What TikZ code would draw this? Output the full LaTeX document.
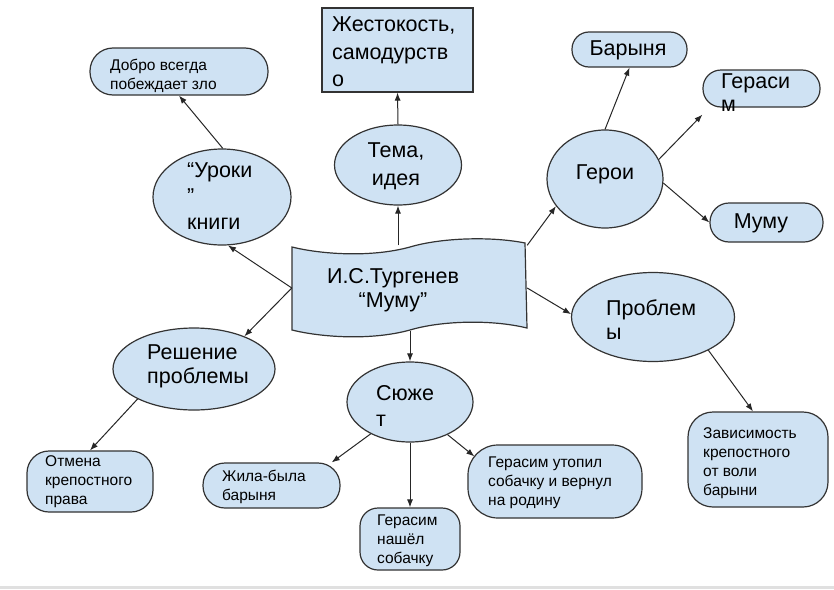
\documentclass[tikz,border=0pt]{standalone}
\usepackage{fontspec}
\setmainfont{Liberation Sans}
\usetikzlibrary{arrows.meta,calc,shapes.geometric}
\definecolor{fillblue}{HTML}{CFE2F3}
\definecolor{edgegray}{HTML}{333333}
\begin{document}
\begin{tikzpicture}[x=1pt,y=-1pt,
  shapebase/.style={draw=edgegray, fill=fillblue, line width=1.2pt, inner sep=0pt},
  oval/.style={shapebase, ellipse},
  pill/.style={shapebase, rectangle},
  big/.style={inner sep=0pt, font=\fontsize{21.5}{#1}\selectfont},
  big/.default=27,
  small/.style={inner sep=0pt, anchor=west, align=left, font=\fontsize{15.5}{19}\selectfont},
  conn/.style={draw=black!85, line width=1pt, -{Latex[length=8pt,width=6pt]}},
]
\useasboundingbox (0,0) rectangle (834,589);
\fill[white] (0,0) rectangle (834,589);
\fill[black!12] (0,586) rectangle (834,589);

% central banner
\filldraw[draw=edgegray, fill=fillblue, line width=1.2pt]
  (292,247) .. controls (320,254) and (370,258) .. (410,247)
  .. controls (440,238) and (490,236) .. (525,243)
  -- (527,328)
  .. controls (490,319) and (440,321) .. (410,330)
  .. controls (370,341) and (320,337) .. (292,330) -- cycle;
\node[minimum width=235, minimum height=85, inner sep=0pt] (main) at (409.5,288) {};

% ellipses
\node[oval, minimum width=138, minimum height=96] (uroki) at (222,197) {};
\node[oval, minimum width=127, minimum height=80] (tema) at (398,165) {};
\node[oval, minimum width=116, minimum height=98] (geroi) at (605,179) {};
\node[oval, minimum width=163, minimum height=89] (problemy) at (653,317) {};
\node[oval, minimum width=162, minimum height=82] (reshenie) at (194,369) {};
\node[oval, minimum width=126, minimum height=80] (sjuzhet) at (410,402) {};

% boxes
\node[pill, rounded corners=23, minimum width=178, minimum height=47] (dobro) at (179,71.5) {};
\node[pill, minimum width=151, minimum height=84] (zhest) at (397.5,50) {};
\node[pill, rounded corners=17, minimum width=115, minimum height=35] (barynya) at (629.5,49.5) {};
\node[pill, rounded corners=18, minimum width=117, minimum height=37] (gerasim) at (761.5,88.5) {};
\node[pill, rounded corners=19, minimum width=113, minimum height=39] (mumu) at (766.5,222.5) {};
\node[pill, rounded corners=25, minimum width=140, minimum height=95] (zavis) at (758,459.5) {};
\node[pill, rounded corners=22, minimum width=126, minimum height=61] (otmena) at (90,481.5) {};
\node[pill, rounded corners=22, minimum width=137, minimum height=45] (zhila) at (271.5,485.5) {};
\node[pill, rounded corners=18, minimum width=100, minimum height=62] (nashel) at (410,539) {};
\node[pill, rounded corners=30, minimum width=174, minimum height=73] (utopil) at (555,481.5) {};

% texts
\node[big=24, align=center] (tmain) at (393,290) {И.С.Тургенев\\“Муму”};
\node[big=27.5, anchor=west, align=left] (tzhest) at (332,52) {Жестокость,\\самодурств\\о};
\node[big=28, align=center] (ttema) at (396,166) {Тема,\\идея};
\node[big=26, anchor=west, align=left] (turoki) at (187,196) {“Уроки\\”\\книги};
\node[big] (tgeroi) at (605,174) {Герои};
\node[big] (tbarynya) at (628,50) {Барыня};
\node[big=23, anchor=west, align=left] (tgerasim) at (721,93) {Гераси\\м};
\node[big] (tmumu) at (761,223) {Муму};
\node[big=24, anchor=west, align=left] (tproblemy) at (606,320) {Проблем\\ы};
\node[big=24, anchor=west, align=left] (treshenie) at (147,366) {Решение\\проблемы};
\node[big=26, anchor=west, align=left] (tsjuzhet) at (376,406) {Сюже\\т};

\node[small] (tdobro) at (110,76) {Добро всегда\\побеждает зло};
\node[small] (tzavis) at (703,463) {Зависимость\\крепостного\\от воли\\барыни};
\node[small] (totmena) at (45,482) {Отмена\\крепостного\\права};
\node[small] (tzhila) at (222,487) {Жила-была\\барыня};
\node[small] (tnashel) at (377,541) {Герасим\\нашёл\\собачку};
\node[small] (tutopil) at (488,483) {Герасим утопил\\собачку и вернул\\на родину};

% connectors
\draw[conn] (main.west) -- (uroki.-83);
\draw[conn] (main.west) -- (reshenie.33);
\draw[conn] (main.north -| tema.south) -- (tema.south);
\draw[conn] (main.north east) -- (geroi.209);
\draw[conn] (main.east) -- (problemy.178);
\draw[conn] (main.south -| sjuzhet.north) -- (sjuzhet.north);
\draw[conn] (uroki.89) -- (dobro.south);
\draw[conn] (tema.north) -- (zhest.south);
\draw[conn] (geroi.north) -- (barynya.south);
\draw[conn] (geroi.20) -- ($(gerasim.south west)+(0,7)$);
\draw[conn] (geroi.-4) -- (mumu.west);
\draw[conn] (problemy.-31) -- ($(zavis.north)+(-5,0)$);
\draw[conn] (reshenie.208) -- (otmena.north);
\draw[conn] (sjuzhet.219) -- (zhila.21);
\draw[conn] (sjuzhet.south) -- (nashel.north);
\draw[conn] (sjuzhet.-41) -- ($(utopil.north west)+(7,12)$);
\end{tikzpicture}
\end{document}
